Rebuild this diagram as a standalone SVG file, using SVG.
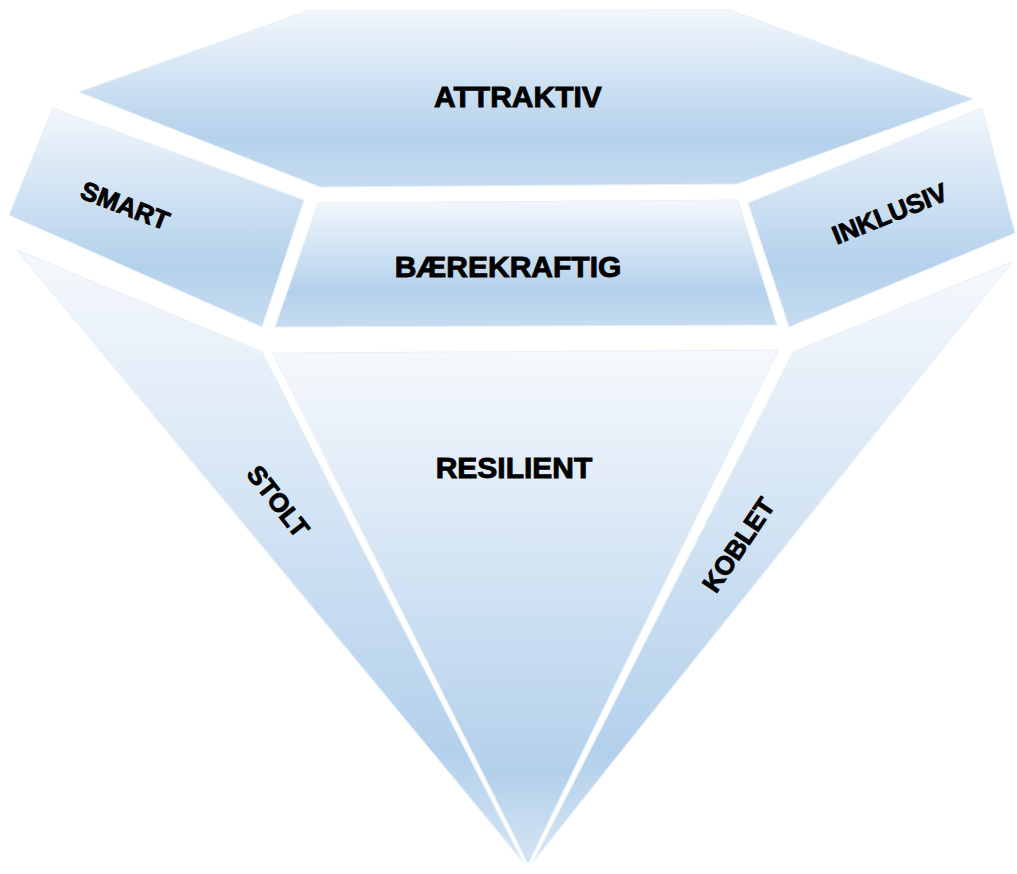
<svg xmlns="http://www.w3.org/2000/svg" width="1017" height="874" viewBox="0 0 1017 874">
<defs>
<linearGradient id="gTop" x1="0" y1="0" x2="0" y2="1">
<stop offset="0" stop-color="#f2f7fc"/>
<stop offset="0.72" stop-color="#b4d1ec"/>
<stop offset="1" stop-color="#c6dcf0"/>
</linearGradient>
<linearGradient id="gBot" x1="0" y1="0" x2="0" y2="1">
<stop offset="0" stop-color="#f6f9fd"/>
<stop offset="0.82" stop-color="#b3d0eb"/>
<stop offset="1" stop-color="#d4e5f4"/>
</linearGradient>
</defs>
<style>
.f1{fill:url(#gTop);stroke:#e6eff8;stroke-width:1}
.f2{fill:url(#gBot);stroke:#e9f1f9;stroke-width:1.2}
.t{font-family:"Liberation Sans",Arial,sans-serif;font-weight:bold;fill:#000;stroke:#000;stroke-width:0.9;text-anchor:middle}
.big{font-size:30px}
.sm{font-size:26px}
</style>
<rect width="1017" height="874" fill="#ffffff"/>
<g id="attraktiv">
<polygon class="f1" points="307,11 730,10 973,99 737,184 320,187 79,92"/>
<text class="t big" x="518" y="107">ATTRAKTIV</text>
</g>
<g id="smart">
<polygon class="f1" points="53,108 304,200 262,327 9,215"/>
<text class="t sm" transform="translate(122,214) rotate(21)" x="0" y="0">SMART</text>
</g>
<g id="baerekraftig">
<polygon class="f1" points="318,203 738,200 777,325 275,327"/>
<text class="t big" x="508" y="277">BÆREKRAFTIG</text>
</g>
<g id="inklusiv">
<polygon class="f1" points="748,203 982,108 1015,233 789,327"/>
<text class="t sm" transform="translate(893,222) rotate(-22)" x="0" y="0">INKLUSIV</text>
</g>
<g id="stolt">
<polygon class="f2" points="17,250 262,352 523,862"/>
<text class="t sm" transform="translate(271,507) rotate(52)" x="0" y="0">STOLT</text>
</g>
<g id="resilient">
<polygon class="f2" points="273,353 778,350 528,864"/>
<text class="t big" x="514" y="478">RESILIENT</text>
</g>
<g id="koblet">
<polygon class="f2" points="793,352 1012,262 533,862"/>
<text class="t sm" transform="translate(746,550) rotate(-56)" x="0" y="0">KOBLET</text>
</g>
</svg>
